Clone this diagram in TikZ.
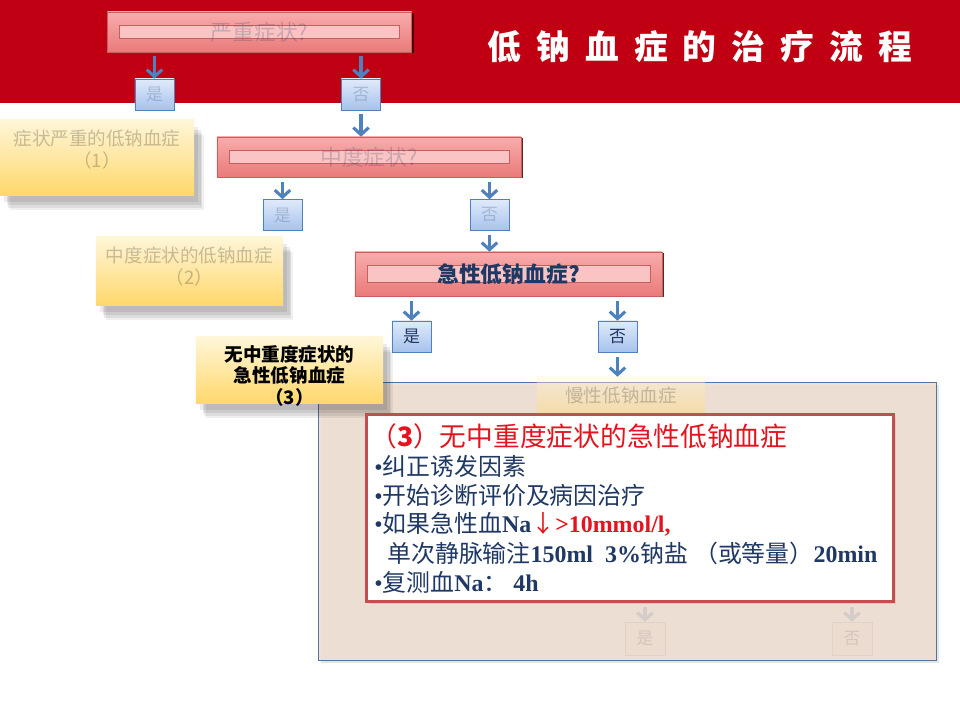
\documentclass[tikz,border=0pt]{standalone}
\usepackage{fontspec}
\setmainfont{Liberation Serif}
\newfontfamily\cjk{Noto Sans CJK SC}
\usetikzlibrary{arrows.meta,shadows}
\definecolor{bandred}{RGB}{192,0,18}
\definecolor{flowblue}{RGB}{79,129,189}
\definecolor{navy}{RGB}{31,56,100}
\definecolor{alertred}{RGB}{228,20,30}
\definecolor{cardred}{RGB}{192,80,77}
\definecolor{pinktop}{RGB}{248,172,172}
\definecolor{pinkbot}{RGB}{234,122,122}
\definecolor{pinkline}{RGB}{200,95,95}
\definecolor{pinkin}{RGB}{251,196,196}
\definecolor{bluetop}{RGB}{224,234,250}
\definecolor{bluebot}{RGB}{166,194,236}
\definecolor{yeltop}{RGB}{255,246,216}
\definecolor{yelbot}{RGB}{255,216,108}
\definecolor{panelfill}{RGB}{238,222,210}
\definecolor{panelline}{RGB}{85,115,160}
\definecolor{ghostfill}{RGB}{236,219,207}
\definecolor{ghostline}{RGB}{224,210,202}
\definecolor{ghosttext}{RGB}{212,198,190}
\definecolor{fadeline}{RGB}{212,204,200}

\begin{document}
\begin{tikzpicture}[x=0.025cm,y=-0.025cm,
  flow/.style={draw=flowblue,line width=2.2pt,shorten <=3pt,-{Straight Barb[length=5pt,width=11pt]}},
  fadeflow/.style={flow,draw=fadeline},
  decision/.style={minimum width=7.6cm,minimum height=1cm,inner sep=0pt,top color=pinktop,bottom color=pinkbot,draw=pinkline,
    drop shadow={shadow xshift=1.4pt,shadow yshift=-1pt,fill=black!75!red,opacity=.85},
    path picture={\draw[draw=pinkline,fill=pinkin] ([shift={(8.5pt,-9.5pt)}]path picture bounding box.north west) rectangle ([shift={(-8.5pt,9.5pt)}]path picture bounding box.south east);},
    font=\cjk\fontsize{15.5}{15.5}\selectfont},
  yesno/.style={minimum width=0.975cm,minimum height=0.775cm,inner sep=0pt,top color=bluetop,bottom color=bluebot,draw=flowblue,text=navy,font=\cjk\fontsize{12}{12}\selectfont},
  ghostbox/.style={minimum width=1cm,minimum height=0.825cm,inner sep=0pt,fill=ghostfill,draw=ghostline,text=ghosttext,font=\cjk\fontsize{12}{12}\selectfont},
  result/.style={inner sep=0pt,top color=yeltop,bottom color=yelbot,
    drop shadow={shadow xshift=3pt,shadow yshift=-5pt,fill=black,opacity=.08},
    drop shadow={shadow xshift=5pt,shadow yshift=-7pt,fill=black,opacity=.08},
    drop shadow={shadow xshift=6pt,shadow yshift=-9pt,fill=black,opacity=.08},
    drop shadow={shadow xshift=7pt,shadow yshift=-11pt,fill=black,opacity=.06}},
  restext/.style={anchor=north,inner sep=0pt,align=center,font=\cjk\fontsize{13.2}{15.5}\selectfont},
  faded/.style={text=navy,text opacity=.22},
  cardline/.style={anchor=west,inner sep=0pt,text=navy,font=\fontsize{17}{17}\selectfont}]
\useasboundingbox[fill=white] (0,0) rectangle (960,720);
\fill[bandred] (0,0) rectangle (960,103);
\node[anchor=west,inner sep=0pt,text=white,font=\cjk\bfseries\fontsize{24}{24}\selectfont\addfontfeature{LetterSpace=45}] (title) at (487,47) {低钠血症的治疗流程};

% severe symptoms
\node[decision,faded] (sev) at (259.5,32) {严重症状?};
\node[yesno,faded] (sevy) at (154.5,94.5) {是};
\node[yesno,faded] (sevn) at (361,94.5) {否};
\draw[flow] (sevy.north |- sev.south) -- (sevy.north);
\draw[flow] (sevn.north |- sev.south) -- (sevn.north);
\node[result,minimum width=4.85cm,minimum height=1.875cm] (r1) at (97,157.5) {};
\node[restext,faded,text=black] (r1t) at ([yshift=-0.25cm]r1.north) {症状严重的低钠血症\\（1）};

% moderate symptoms
\node[decision,faded] (mod) at (369,157) {中度症状?};
\draw[flow] (sevn.south) -- (sevn.south |- mod.north);
\node[yesno,faded] (mody) at (282.5,215) {是};
\node[yesno,faded] (modn) at (489.5,215) {否};
\draw[flow] (mody.north |- mod.south) -- (mody.north);
\draw[flow] (modn.north |- mod.south) -- (modn.north);
\node[result,minimum width=4.675cm,minimum height=1.7cm] (r2) at (189.5,271) {};
\node[restext,faded,text=black] (r2t) at ([yshift=-0.25cm]r2.north) {中度症状的低钠血症\\（2）};

% acute
\node[decision,minimum width=7.675cm,minimum height=1.1cm,text=navy,font=\cjk\bfseries\fontsize{15.5}{15.5}\selectfont] (acu) at (508.5,274) {急性低钠血症?};
\draw[flow] (modn.south) -- (modn.south |- acu.north);
\node[yesno] (acuy) at (411.5,336.5) {是};
\node[yesno] (acun) at (617.5,336.5) {否};
\draw[flow] (acuy.north |- acu.south) -- (acuy.north);
\draw[flow] (acun.north |- acu.south) -- (acun.north);

% panel
\node[anchor=north west,minimum width=15.45cm,minimum height=6.95cm,fill=panelfill,fill opacity=.9,draw=panelline,line width=.7pt,
  drop shadow={shadow xshift=1.5pt,shadow yshift=-1.5pt,opacity=.2}] (panel) at (318,382) {};
\node[minimum width=4.2cm,minimum height=0.9cm,inner sep=0pt,top color=yeltop,bottom color=yelbot,fill opacity=.4,text=black,text opacity=.2,font=\cjk\fontsize{13.2}{13.2}\selectfont] (slow) at (621,395) {慢性低钠血症};
\draw[flow] (acun.south) -- (acun.south |- slow.north);
\node[result,minimum width=4.675cm,minimum height=1.65cm] (r3) at (289.5,370) {};
\node[restext,font=\cjk\bfseries\fontsize{13.2}{15}\selectfont] (r3t) at ([yshift=-0.22cm]r3.north) {无中重度症状的\\急性低钠血症\\（3）};
\node[ghostbox] (slowy) at (645,638.5) {是};
\node[ghostbox] (slown) at (852,638.5) {否};

% card
\node[anchor=north west,minimum width=13.175cm,minimum height=4.675cm,fill=white,draw=cardred,line width=2.2pt,
  drop shadow={shadow xshift=1.5pt,shadow yshift=-1.5pt,opacity=.2}] (card) at (365,413) {};
\draw[fadeflow] (slowy.north |- card.south) -- (slowy.north);
\draw[fadeflow] (slown.north |- card.south) -- (slown.north);
\node[cardline,text=alertred,font=\cjk\fontsize{19}{19}\selectfont] (l1) at (370,436) {（{\bfseries 3}）无中重度症状的急性低钠血症};
\node[cardline] (l2) at (374,466) {\textbullet{\cjk 纠正诱发因素}};
\node[cardline] (l3) at (374,495) {\textbullet{\cjk 开始诊断评价及病因治疗}};
\node[cardline] (l4) at (374,524) {\textbullet{\cjk 如果急性血}\textbf{Na}\textcolor{alertred}{{\cjk ↓}\textbf{>10mmol/l,}}};
\node[cardline] (l5) at (387,553) {{\cjk 单次静脉输注}\textbf{150ml\ \ 3\%}{\cjk 钠盐 （或等量）}\textbf{20min}};
\node[cardline] (l6) at (374,582) {\textbullet{\cjk 复测血}\textbf{Na}{\cjk ：}\ \textbf{4h}};
\end{tikzpicture}
\end{document}
